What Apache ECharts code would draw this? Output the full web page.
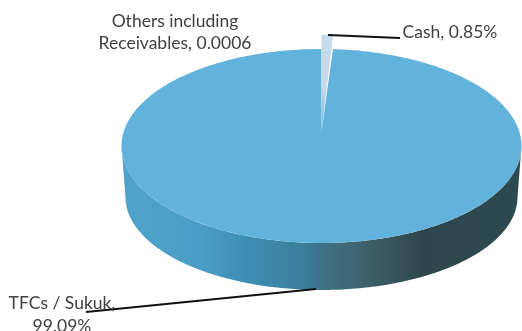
<!DOCTYPE html>
<html>
<head>
<meta charset="utf-8">
<style>html,body{margin:0;padding:0;background:#fff}#c{width:522px;height:331px}</style>
<script src="https://cdn.jsdelivr.net/npm/echarts@6/dist/echarts.min.js"></script>
</head>
<body>
<div id="c"></div>
<script>
const categories = ['TFCs / Sukuk', 'Cash', 'Others including Receivables'];
const shares = [99.09, 0.85, 0.06];
const sliceColors = ['#61b3dc', '#c6dae9', '#a9c8de'];
const labelLines = [
  { text: 'Others including\nReceivables, 0.0006', x: 175, y: 32, lineHeight: 22 },
  { text: 'Cash, 0.85%', x: 450, y: 32, lineHeight: 22 },
  { text: 'TFCs / Sukuk,\n99.09%', x: 62, y: 315, lineHeight: 23 }
];
const leaders = [
  [[328, 35], [400, 38]],
  [[316, 289], [86, 312]]
];

const cx = 321.5, cy = 146, rx = 200, ry = 97, lift = 14;
const baseRx = 196, baseRy = 93, baseCy = 197;
const total = shares.reduce((a, b) => a + b, 0);
const startDeg = (shares[1] + shares[2]) / total * 360;

function pt(deg, ox, oy, a, b) {
  const t = deg * Math.PI / 180;
  return [ox + a * Math.sin(t), oy - b * Math.cos(t)];
}
function arc(a0, a1, ox, oy, a, b) {
  const pts = [], n = Math.max(2, Math.ceil(Math.abs(a1 - a0)));
  for (let i = 0; i <= n; i++) pts.push(pt(a0 + (a1 - a0) * i / n, ox, oy, a, b));
  return pts;
}
const wallFill = new echarts.graphic.LinearGradient(121, 0, 522, 0, [
  { offset: 0, color: '#4f9fc6' },
  { offset: 0.05, color: '#4fa3cb' },
  { offset: 0.2, color: '#4a9dc6' },
  { offset: 0.32, color: '#3d8db3' },
  { offset: 0.45, color: '#3a7f9c' },
  { offset: 0.52, color: '#3f6e82' },
  { offset: 0.6, color: '#3e636d' },
  { offset: 0.67, color: '#38565c' },
  { offset: 0.75, color: '#2e474c' },
  { offset: 1, color: '#2c4a50' }
], true);

function renderItem(params, api) {
  const i = params.dataIndex;
  let before = 0;
  for (let k = 0; k < i; k++) before += shares[k];
  const a0 = startDeg + before / total * 360;
  const a1 = a0 + api.value(0) / total * 360;
  const children = [];
  if (i === 0) {
    const wall = arc(90, 270, cx, cy, rx, ry).concat(arc(270, 90, cx, baseCy, baseRx, baseRy));
    children.push({ type: 'polygon', shape: { points: wall }, style: { fill: wallFill } });
    const top = [[cx, cy - lift]].concat(arc(a0, a1, cx, cy, rx, ry));
    children.push({ type: 'polygon', shape: { points: top }, style: { fill: sliceColors[i] } });
  } else {
    const o = cy - lift;
    const top = [[cx, o]].concat(arc(a0, a1, cx, o, rx, ry));
    const fill = new echarts.graphic.LinearGradient(0, o - ry, 0, o, [
      { offset: 0, color: sliceColors[i] },
      { offset: 0.55, color: sliceColors[i] },
      { offset: 1, color: sliceColors[0] }
    ], true);
    children.push({ type: 'polygon', shape: { points: top }, style: { fill } });
  }
  return { type: 'group', children };
}

const graphics = [];
leaders.forEach(l => graphics.push({
  type: 'polyline', shape: { points: l }, style: { stroke: '#111', lineWidth: 1.8, fill: null }, z: 10
}));
labelLines.forEach(l => graphics.push({
  type: 'text', x: l.x, y: l.y, z: 11,
  style: { text: l.text, font: '17.5px Lato', fill: '#404040', align: 'center', verticalAlign: 'middle', lineHeight: l.lineHeight }
}));

const chart = echarts.init(document.getElementById('c'), null, { renderer: 'canvas' });
chart.setOption({
  animation: false,
  backgroundColor: '#fff',
  graphic: graphics,
  series: [{
    type: 'custom',
    coordinateSystem: 'none',
    renderItem,
    data: shares.map((v, i) => ({ name: categories[i], value: [v] }))
  }]
});
</script>
</body>
</html>
